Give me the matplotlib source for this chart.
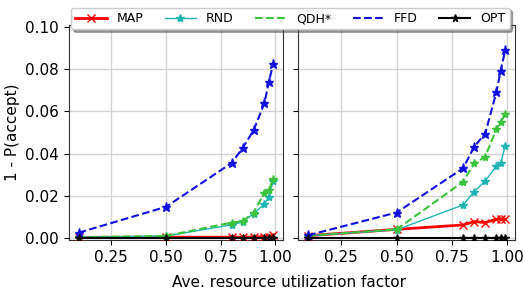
import matplotlib
matplotlib.use("Agg")
import matplotlib.pyplot as plt
from matplotlib.lines import Line2D

x = [0.1, 0.5, 0.8, 0.85, 0.9, 0.95, 0.97, 0.99]

# left panel
map_l = [0.0002, 0.0003, 0.0003, 0.0003, 0.0004, 0.0005, 0.0006, 0.0012]
rnd_l = [0.0003, 0.0008, 0.0062, 0.0075, 0.0115, 0.0160, 0.0195, 0.0270]
qdh_l = [0.0003, 0.0009, 0.0072, 0.0078, 0.0120, 0.0214, 0.0227, 0.0278]
ffd_l = [0.0024, 0.0147, 0.0355, 0.0426, 0.0510, 0.0640, 0.0740, 0.0827]
opt_l = [0.0, 0.0, 0.0, 0.0, 0.0, 0.0, 0.0, 0.0]

# right panel
map_r = [0.0010, 0.0040, 0.0061, 0.0077, 0.0072, 0.0088, 0.0090, 0.0088]
rnd_r = [0.0010, 0.0038, 0.0156, 0.0219, 0.0270, 0.0340, 0.0356, 0.0435]
qdh_r = [0.0010, 0.0040, 0.0266, 0.0353, 0.0385, 0.0514, 0.0550, 0.0586]
ffd_r = [0.0012, 0.0120, 0.0330, 0.0432, 0.0495, 0.0690, 0.0794, 0.0889]
opt_r = [0.0, 0.0, 0.0, 0.0, 0.0, 0.0, 0.0, 0.0]

labels = ["MAP", "RND", "QDH*", "FFD", "OPT"]
c_map, c_rnd, c_qdh, c_ffd, c_opt = "red", "#1fb5b5", "#3cc43c", "#1010e0", "black"

fig = plt.figure(figsize=(5.25, 2.94), dpi=100)
ax1 = fig.add_axes([0.131, 0.184, 0.408, 0.731])
ax2 = fig.add_axes([0.568, 0.184, 0.413, 0.731], sharey=ax1)

def draw(ax, m, r, q, f, o):
    ax.plot(x, m, color=c_map, lw=2, marker="x", ms=5.5, zorder=3)
    ax.plot(x, r, color=c_rnd, lw=1, marker="*", ms=6, zorder=3)
    ax.plot(x, q, color=c_qdh, lw=1.5, ls="--", marker="*", ms=6, zorder=3)
    ax.plot(x, f, color=c_ffd, lw=1.5, ls="--", marker="*", ms=6.5, zorder=3)
    ax.plot(x, o, color=c_opt, lw=1.5, marker="*", ms=5.5, zorder=4)
    ax.grid(True, color="#d3d3d3", lw=1)
    ax.set_axisbelow(True)
    ax.set_xticks([0.25, 0.5, 0.75, 1.0])
    ax.set_xticklabels(["0.25", "0.50", "0.75", "1.00"])
    ax.tick_params(labelsize=11)
    for s in ax.spines.values():
        s.set_color("#333333")

draw(ax1, map_l, rnd_l, qdh_l, ffd_l, opt_l)
draw(ax2, map_r, rnd_r, qdh_r, ffd_r, opt_r)
ax1.set_ylim(-0.001, 0.101)
ax1.set_yticks([0.0, 0.02, 0.04, 0.06, 0.08, 0.10])
ax1.set_yticklabels(["0.00", "0.02", "0.04", "0.06", "0.08", "0.10"])
plt.setp(ax2.get_yticklabels(), visible=False)
ax1.set_ylabel("1 - P(accept)", fontsize=11)
fig.text(0.55, 0.015, "Ave. resource utilization factor", ha="center", va="bottom", fontsize=11)

handles = [
    Line2D([], [], color=c_map, lw=2, marker="x", ms=5.5),
    Line2D([], [], color=c_rnd, lw=1, marker="*", ms=6),
    Line2D([], [], color=c_qdh, lw=1.5, ls="--"),
    Line2D([], [], color=c_ffd, lw=1.5, ls="--"),
    Line2D([], [], color=c_opt, lw=1.5, marker="*", ms=5.5),
]
fig.legend(handles, labels, loc="upper center", bbox_to_anchor=(0.553, 0.995), ncol=5,
           fontsize=9, frameon=True, shadow=True, fancybox=True, borderpad=0.35,
           columnspacing=1.7, handlelength=2.5, framealpha=1)

fig.savefig("out.png", dpi=100)
